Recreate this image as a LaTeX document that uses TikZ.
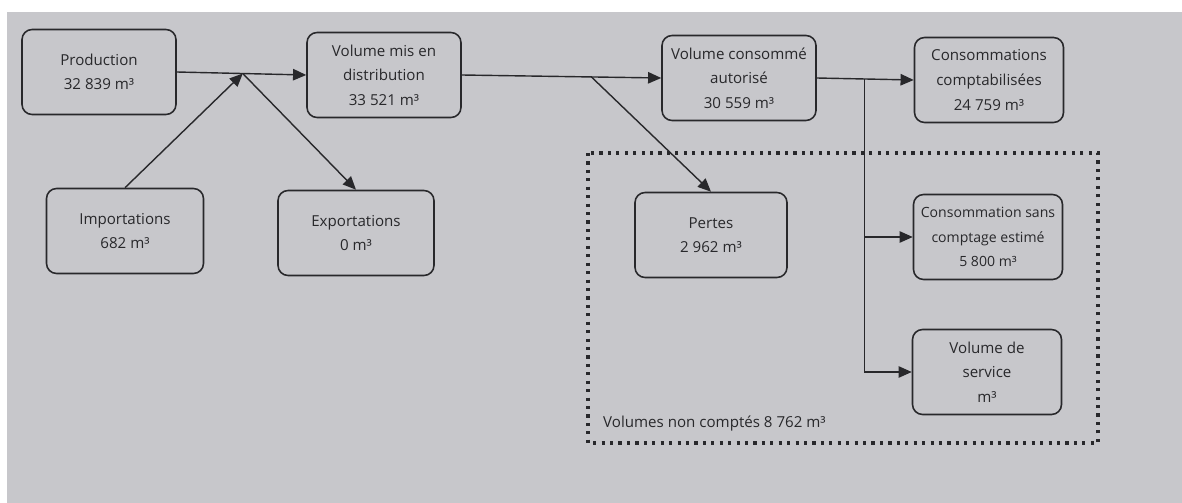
\documentclass[tikz,border=0pt]{standalone}
\usepackage{fontspec}
\setmainfont{Open Sans}
\usetikzlibrary{arrows.meta,calc}
\definecolor{paper}{RGB}{199,199,203}
\definecolor{ink}{RGB}{40,40,43}
\begin{document}
\begin{tikzpicture}[x=0.02cm,y=-0.02cm,
    box/.style={draw=ink, line width=0.9pt, rounded corners=0.2cm, fill=paper,
      align=center, text=ink, minimum width=3.08cm, minimum height=1.7cm,
      font=\fontsize{8.6}{14}\selectfont},
    smallbox/.style={box, minimum width=2.98cm},
    flow/.style={draw=ink, line width=0.8pt, -{Triangle[length=7.5pt,width=6.5pt]}},
    trunk/.style={draw=ink, line width=0.8pt}]
    \useasboundingbox (0,0) rectangle (1182,503);
    \fill [white] (0,0) rectangle (1182,503);
    \fill [paper] (7,12) rectangle (1182,503);

    \draw [ink, line width=1.8pt, dash pattern=on 1.8pt off 3pt]
    (588,153) rectangle (1098,443);
    \node [anchor=west, text=ink, font=\fontsize{8.6}{14}\selectfont] (nc) at (597,424)
    {Volumes non comptés 8 762 m³};

    \node [box] (prod) at (99,72) {Production\\32 839 m³};
    \node [box] (dist) at (384,75) {Volume mis en\\distribution\\33 521 m³};
    \node [box, minimum width=3.14cm] (imp) at (125,231) {Importations\\682 m³};
    \node [box, minimum width=3.12cm] (exp) at (356,233) {Exportations\\0 m³};
    \node [box] (vca) at (739,78) {Volume consommé\\autorisé\\30 559 m³};
    \node [box, minimum width=3.04cm] (pertes) at (711,235) {Pertes\\2 962 m³};
    \node [smallbox] (cc) at (989,80) {Consommations\\comptabilisées\\24 759 m³};
    \node [smallbox, font=\fontsize{8}{14}\selectfont] (cse) at (988,237)
    {Consommation sans\\comptage estimé\\5 800 m³};
    \node [smallbox] (vds) at (987,372) {Volume de\\service\\m³};

    \coordinate (j1) at ($(prod.east)!0.51!(dist.west)$);
    \coordinate (j2) at ($(dist.east)!0.65!(vca.west)$);
    \coordinate (j3) at ($(vca.east)!0.49!(cc.west)$);

    \draw [flow] (prod.east) -- (dist.west);
    \draw [flow] (imp.north) -- (j1);
    \draw [flow] (j1) -- (exp.north);
    \draw [flow] (dist.east) -- (vca.west);
    \draw [flow] (j2) -- (pertes.north);
    \draw [flow] (vca.east) -- (cc.west);
    \draw [trunk] (j3) -- (j3 |- vds.west);
    \draw [flow] (j3 |- cse.west) -- (cse.west);
    \draw [flow] (j3 |- vds.west) -- (vds.west);

  \end{tikzpicture}
\end{document}
